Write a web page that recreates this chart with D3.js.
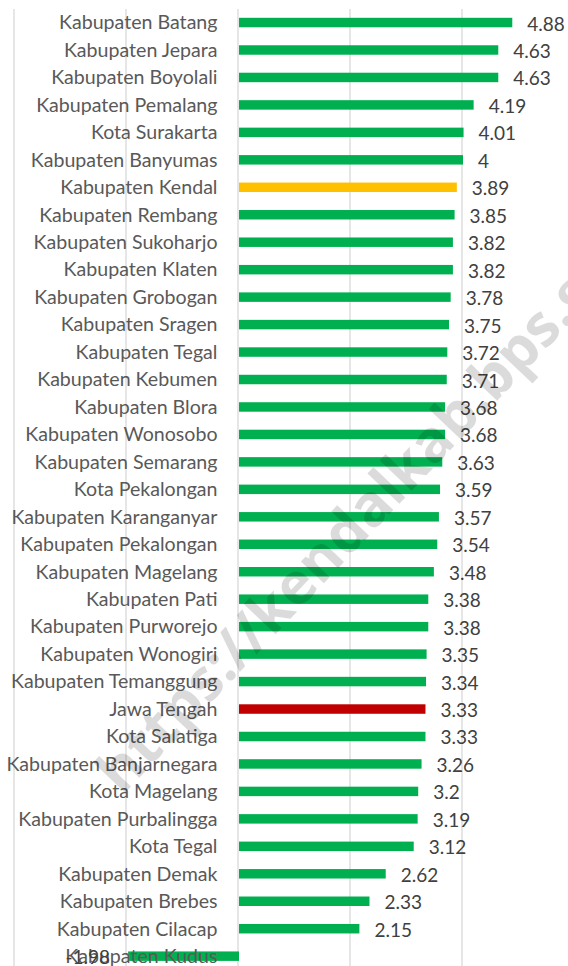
<!DOCTYPE html>
<html>
<head>
<meta charset="utf-8">
<script src="https://cdn.jsdelivr.net/npm/d3@7"></script>
<style>
html,body{margin:0;padding:0;background:#fff;}
svg{display:block;}
</style>
</head>
<body>
<svg id="chart" width="568" height="966"></svg>
<script>
const categories = [
  "Kabupaten Batang","Kabupaten Jepara","Kabupaten Boyolali","Kabupaten Pemalang",
  "Kota Surakarta","Kabupaten Banyumas","Kabupaten Kendal","Kabupaten Rembang",
  "Kabupaten Sukoharjo","Kabupaten Klaten","Kabupaten Grobogan","Kabupaten Sragen",
  "Kabupaten Tegal","Kabupaten Kebumen","Kabupaten Blora","Kabupaten Wonosobo",
  "Kabupaten Semarang","Kota Pekalongan","Kabupaten Karanganyar","Kabupaten Pekalongan",
  "Kabupaten Magelang","Kabupaten Pati","Kabupaten Purworejo","Kabupaten Wonogiri",
  "Kabupaten Temanggung","Jawa Tengah","Kota Salatiga","Kabupaten Banjarnegara",
  "Kota Magelang","Kabupaten Purbalingga","Kota Tegal","Kabupaten Demak",
  "Kabupaten Brebes","Kabupaten Cilacap","Kabupaten Kudus"
];
const values = [
  4.88,4.63,4.63,4.19,4.01,4,3.89,3.85,3.82,3.82,3.78,3.75,3.72,3.71,3.68,3.68,
  3.63,3.59,3.57,3.54,3.48,3.38,3.38,3.35,3.34,3.33,3.33,3.26,3.2,3.19,3.12,2.62,
  2.33,2.15,-1.98
];
const valueLabels = values.map(v => String(v));
const highlight = {"Kabupaten Kendal":"#FFC000","Jawa Tengah":"#C00000"};
const defaultColor = "#00B050";
const gridTicks = [-4,-2,0,2,4,6];
const watermark = "https://kendalkab.bps.go.id";

const svg = d3.select("#chart");
const x = d3.scaleLinear().domain([-4,6]).range([14, 574]);
const step = 27.46;
const y = d3.scaleBand().domain(categories)
  .range([8.8, 8.8 + step*categories.length])
  .paddingInner(0.655).paddingOuter(0.3275);

// gridlines
svg.append("g").selectAll("line").data(gridTicks).join("line")
  .attr("x1", d => x(d)).attr("x2", d => x(d))
  .attr("y1", 9).attr("y2", 980)
  .attr("stroke", "#D9D9D9").attr("stroke-width", 1.3);

// bars
svg.append("g").selectAll("rect").data(categories).join("rect")
  .attr("x", (d,i) => Math.min(x(0), x(values[i])) + 1)
  .attr("y", d => y(d))
  .attr("width", (d,i) => Math.abs(x(values[i]) - x(0)))
  .attr("height", y.bandwidth())
  .attr("fill", d => highlight[d] || defaultColor);

// category labels
svg.append("g").selectAll("text").data(categories).join("text")
  .attr("x", 217.5)
  .attr("y", d => y(d) + y.bandwidth()/2 + 6.8)
  .attr("text-anchor", "end")
  .attr("font-family", "Lato, 'Open Sans', sans-serif")
  .attr("font-size", 19.6)
  .attr("fill", "#595959")
  .text(d => d);

// value labels
svg.append("g").selectAll("text").data(categories).join("text")
  .attr("x", (d,i) => values[i] >= 0 ? x(values[i]) + 16 : x(values[i]) - 17)
  .attr("y", d => y(d) + y.bandwidth()/2 + 8)
  .attr("text-anchor", (d,i) => values[i] >= 0 ? "start" : "end")
  .attr("font-family", "Lato, 'Open Sans', sans-serif")
  .attr("font-size", 19)
  .attr("fill", "#404040")
  .text((d,i) => valueLabels[i]);

// watermark
svg.append("text")
  .attr("transform", "translate(122,796) rotate(-46.5)")
  .attr("font-family", "'Open Sans', Lato, sans-serif")
  .attr("font-weight", "bold")
  .attr("font-size", 58)
  .attr("fill", "#000")
  .attr("fill-opacity", 0.14)
  .text(watermark);
</script>
</body>
</html>
